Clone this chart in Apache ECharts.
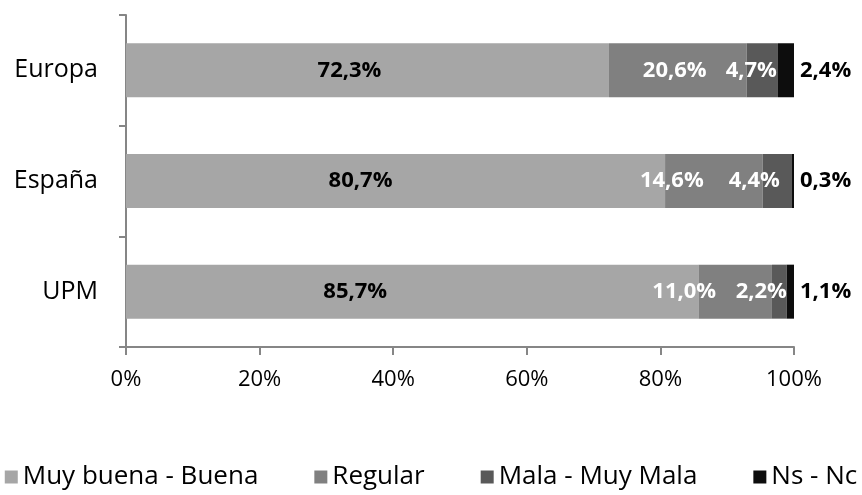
<!DOCTYPE html>
<html>
<head>
<meta charset="utf-8">
<script src="https://cdn.jsdelivr.net/npm/echarts@6/dist/echarts.min.js"></script>
<style>html,body{margin:0;padding:0;background:#fff}#c{width:862px;height:495px}</style>
</head>
<body>
<div id="c"></div>
<script>
var categories = ['Europa', 'España', 'UPM'];
var seriesNames = ['Muy buena - Buena', 'Regular', 'Mala - Muy Mala', 'Ns - Nc'];
var muyBuena = [72.3, 80.7, 85.7];
var regular = [20.6, 14.6, 11.0];
var mala = [4.7, 4.4, 2.2];
var nsnc = [2.4, 0.3, 1.1];
var xTicks = [0, 20, 40, 60, 80, 100];

var colors = ['#A6A6A6', '#808080', '#595959', '#0D0D0D'];
var labelColors = ['#000', '#fff', '#fff', '#000'];
var labelOffsets = [[-18, -35, -57], [-3, -42, -51], [-11, -23, -18], [0, 0, 0]];
var FONT = 'Open Sans';

function fmt(v) { return v.toFixed(1).replace('.', ',') + '%'; }

var values = [muyBuena, regular, mala, nsnc];
var series = values.map(function (arr, si) {
  return {
    name: seriesNames[si],
    type: 'bar',
    stack: 'total',
    barWidth: 54,
    itemStyle: { color: colors[si] },
    data: arr.map(function (v, i) {
      return {
        value: v,
        label: {
          offset: si === 3 ? [0, 0] : [labelOffsets[si][i], 0]
        }
      };
    }),
    label: {
      show: true,
      position: si === 3 ? 'right' : 'inside',
      distance: 6,
      color: labelColors[si],
      fontFamily: FONT,
      fontWeight: 'bold',
      fontSize: 22,
      formatter: function (p) { return fmt(p.value); }
    }
  };
});

var chart = echarts.init(document.getElementById('c'));
chart.setOption({
  animation: false,
  grid: { left: 126, right: 68, top: 15, bottom: 148, containLabel: false },
  legend: {
    bottom: 5,
    left: 'center',
    padding: 0,
    itemWidth: 13,
    itemHeight: 13,
    itemGap: 56,
    icon: 'rect',
    textStyle: { fontFamily: FONT, fontSize: 26, color: '#000' },
    data: seriesNames
  },
  xAxis: {
    type: 'value',
    min: 0, max: 100, interval: 20,
    axisLine: { show: true, lineStyle: { color: '#868686', width: 2 } },
    axisTick: { show: true, length: 8, lineStyle: { color: '#868686', width: 2 } },
    splitLine: { show: false },
    axisLabel: {
      margin: 22,
      fontFamily: FONT, fontSize: 22, color: '#000',
      formatter: function (v) { return xTicks.indexOf(v) >= 0 ? v + '%' : ''; }
    }
  },
  yAxis: {
    type: 'category',
    inverse: true,
    data: categories,
    axisLine: { show: true, lineStyle: { color: '#868686', width: 2 } },
    axisTick: { show: true, length: 7, lineStyle: { color: '#868686', width: 2 } },
    axisLabel: { margin: 28, fontFamily: FONT, fontSize: 25, color: '#000' }
  },
  series: series
});
</script>
</body>
</html>
